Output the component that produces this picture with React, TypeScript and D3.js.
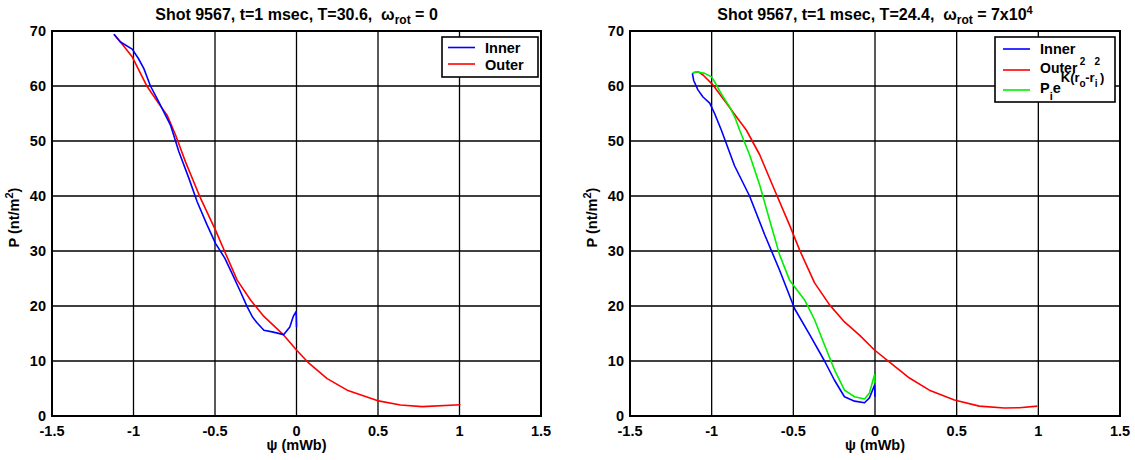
import React from "react";
import * as d3 from "d3";

const xTicks = [-1.5, -1, -0.5, 0, 0.5, 1, 1.5];
const yTicks = [0, 10, 20, 30, 40, 50, 60, 70];

const leftInnerX = [-1.12, -1.08, -1.008, -0.97, -0.937, -0.896, -0.845, -0.773, -0.722, -0.66, -0.61, -0.548, -0.497, -0.44, -0.395, -0.35, -0.303, -0.27, -0.241, -0.2, -0.149, -0.078, -0.041, -0.02, -0.002, 0.0];
const leftInnerY = [69.4, 68.0, 66.7, 65.0, 63.2, 60.0, 57.1, 52.9, 48.1, 43.2, 39.0, 34.7, 31.4, 28.7, 25.9, 23.0, 19.9, 18.0, 16.9, 15.6, 15.3, 14.8, 16.2, 18.1, 19.0, 16.2];
const leftOuterX = [-1.12, -1.08, -1.008, -0.916, -0.845, -0.794, -0.742, -0.681, -0.589, -0.497, -0.436, -0.364, -0.282, -0.2, -0.078, 0.0, 0.076, 0.188, 0.311, 0.495, 0.638, 0.771, 1.006];
const leftOuterY = [69.4, 68.0, 65.3, 59.9, 56.8, 54.7, 51.1, 46.2, 39.6, 33.8, 29.6, 24.7, 21.1, 18.1, 14.7, 12.0, 9.6, 6.8, 4.7, 2.8, 2.0, 1.7, 2.05];

const rightInnerX = [-1.118, -1.11, -1.084, -1.053, -1.012, -0.982, -0.941, -0.86, -0.768, -0.676, -0.584, -0.492, -0.4, -0.309, -0.248, -0.187, -0.125, -0.064, -0.034, -0.003, 0.0];
const rightInnerY = [62.3, 61.0, 59.3, 58.0, 56.9, 55.0, 52.0, 45.5, 40.0, 33.0, 26.5, 19.5, 14.8, 10.0, 6.5, 3.5, 2.7, 2.4, 3.3, 5.6, 3.5];
const rightOuterX = [-1.114, -1.084, -1.053, -0.992, -0.91, -0.849, -0.788, -0.706, -0.615, -0.523, -0.462, -0.37, -0.278, -0.187, -0.095, -0.003, 0.089, 0.211, 0.333, 0.486, 0.639, 0.792, 0.884, 0.994];
const rightOuterY = [62.4, 62.6, 62.0, 60.2, 56.9, 54.4, 52.0, 47.5, 41.1, 34.7, 30.2, 24.2, 20.2, 17.1, 14.7, 12.0, 9.8, 6.9, 4.7, 2.9, 1.8, 1.45, 1.5, 1.8];
const rightModelX = [-1.118, -1.094, -1.043, -1.002, -0.982, -0.961, -0.931, -0.89, -0.859, -0.829, -0.768, -0.706, -0.645, -0.584, -0.523, -0.431, -0.37, -0.309, -0.248, -0.187, -0.125, -0.064, -0.034, -0.003, 0.0];
const rightModelY = [62.3, 62.6, 62.3, 61.7, 60.8, 59.6, 58.1, 56.2, 54.4, 52.0, 47.5, 42.0, 35.6, 29.3, 24.7, 21.1, 17.5, 12.9, 8.4, 4.7, 3.5, 3.1, 4.2, 7.5, 6.0];

const FONT = "'Liberation Sans', Arial, sans-serif";

type Series = { xs: number[]; ys: number[]; color: string };

function Panel({ x0, x1, y0, y1, title, series, legend }: { x0: number; x1: number; y0: number; y1: number; title: React.ReactNode; series: Series[]; legend: React.ReactNode }) {
  const xs = d3.scaleLinear().domain([-1.5, 1.5]).range([x0, x1]);
  const ys = d3.scaleLinear().domain([0, 70]).range([y1, y0]);
  const line = d3.line<[number, number]>().x(d => xs(d[0])).y(d => ys(d[1]));
  const cx = (x0 + x1) / 2;
  return (
    <g fontFamily={FONT} fontWeight="bold">
      <rect x={x0} y={y0} width={x1 - x0} height={y1 - y0} fill="#fff" />
      {xTicks.map(t => (
        <line key={"gx" + t} x1={xs(t)} x2={xs(t)} y1={y0} y2={y1} stroke="#000" strokeWidth={1.3} />
      ))}
      {yTicks.map(t => (
        <line key={"gy" + t} x1={x0} x2={x1} y1={ys(t)} y2={ys(t)} stroke="#000" strokeWidth={1.3} />
      ))}
      {series.map((s, i) => (
        <path key={i} d={line(s.xs.map((v, j) => [v, s.ys[j]] as [number, number])) || ""} fill="none" stroke={s.color} strokeWidth={1.6} strokeLinejoin="round" />
      ))}
      <rect x={x0} y={y0} width={x1 - x0} height={y1 - y0} fill="none" stroke="#000" strokeWidth={2} />
      {xTicks.map(t => (
        <text key={"tx" + t} x={xs(t)} y={y1 + 19.5} fontSize={14.5} textAnchor="middle">{String(t)}</text>
      ))}
      {yTicks.map(t => (
        <text key={"ty" + t} x={x0 - 6} y={ys(t) + 5} fontSize={14.5} textAnchor="end">{String(t)}</text>
      ))}
      <text x={cx} y={y1 + 34} fontSize={14.5} textAnchor="middle">ψ (mWb)</text>
      <text transform={`translate(${x0 - 33},${(y0 + y1) / 2 - 6}) rotate(-90)`} fontSize={14.5} textAnchor="middle">
        P (nt/m<tspan dy={-6} fontSize={11}>2</tspan><tspan dy={6}>)</tspan>
      </text>
      <text x={cx} y={y0 - 11} fontSize={16} textAnchor="middle" style={{ whiteSpace: "pre" }}>{title}</text>
      {legend}
    </g>
  );
}

export default function App() {
  const leftSeries: Series[] = [
    { xs: leftOuterX, ys: leftOuterY, color: "#ff0000" },
    { xs: leftInnerX, ys: leftInnerY, color: "#0000ff" },
  ];
  const rightSeries: Series[] = [
    { xs: rightOuterX, ys: rightOuterY, color: "#ff0000" },
    { xs: rightModelX, ys: rightModelY, color: "#00ee00" },
    { xs: rightInnerX, ys: rightInnerY, color: "#0000ff" },
  ];
  const leftLegend = (
    <g fontFamily={FONT} fontWeight="bold" fontSize={14.5}>
      <rect x={442} y={37} width={96} height={40} fill="#fff" stroke="#000" strokeWidth={1.6} />
      <line x1={448} x2={475} y1={47.5} y2={47.5} stroke="#0000ff" strokeWidth={1.6} />
      <line x1={448} x2={475} y1={64} y2={64} stroke="#ff0000" strokeWidth={1.6} />
      <text x={485} y={53}>Inner</text>
      <text x={485} y={70}>Outer</text>
    </g>
  );
  const rightLegend = (
    <g fontFamily={FONT} fontWeight="bold" fontSize={14.5}>
      <rect x={995} y={37} width={120} height={65} fill="#fff" stroke="#000" strokeWidth={1.6} />
      <line x1={1003} x2={1030} y1={49} y2={49} stroke="#0000ff" strokeWidth={1.6} />
      <line x1={1003} x2={1030} y1={70} y2={70} stroke="#ff0000" strokeWidth={1.6} />
      <line x1={1003} x2={1030} y1={90} y2={90} stroke="#00ee00" strokeWidth={1.6} />
      <text x={1040} y={54}>Inner</text>
      <text x={1040} y={73} fontSize={14}>Outer</text>
      <text x={1040} y={93}>P<tspan fontSize={11} dy={7}>i</tspan><tspan dy={-7}>e</tspan><tspan fontSize={13} dy={-11}>K(r</tspan><tspan fontSize={10} dy={5}>o</tspan><tspan fontSize={10} dx={-6} dy={-22}>2</tspan><tspan fontSize={13} dy={17}>-r</tspan><tspan fontSize={10} dy={5}>i</tspan><tspan fontSize={10} dx={-3} dy={-22}>2</tspan><tspan fontSize={13} dy={17}>)</tspan></text>
    </g>
  );
  const leftTitle = (
    <>Shot 9567, t=1 msec, T=30.6,  ω<tspan fontSize={12} dy={4}>rot</tspan><tspan dy={-4}> = 0</tspan></>
  );
  const rightTitle = (
    <>Shot 9567, t=1 msec, T=24.4,  ω<tspan fontSize={12} dy={4}>rot</tspan><tspan dy={-4}> = 7x10</tspan><tspan fontSize={11} dy={-6}>4</tspan></>
  );
  return (
    <svg width={1135} height={460} style={{ display: "block", position: "absolute", left: 0, top: 0 }}>
      <rect width={1135} height={460} fill="#fff" />
      <Panel x0={52} x1={541} y0={31} y1={416} title={leftTitle} series={leftSeries} legend={leftLegend} />
      <Panel x0={630} x1={1120} y0={31} y1={416} title={rightTitle} series={rightSeries} legend={rightLegend} />
    </svg>
  );
}
